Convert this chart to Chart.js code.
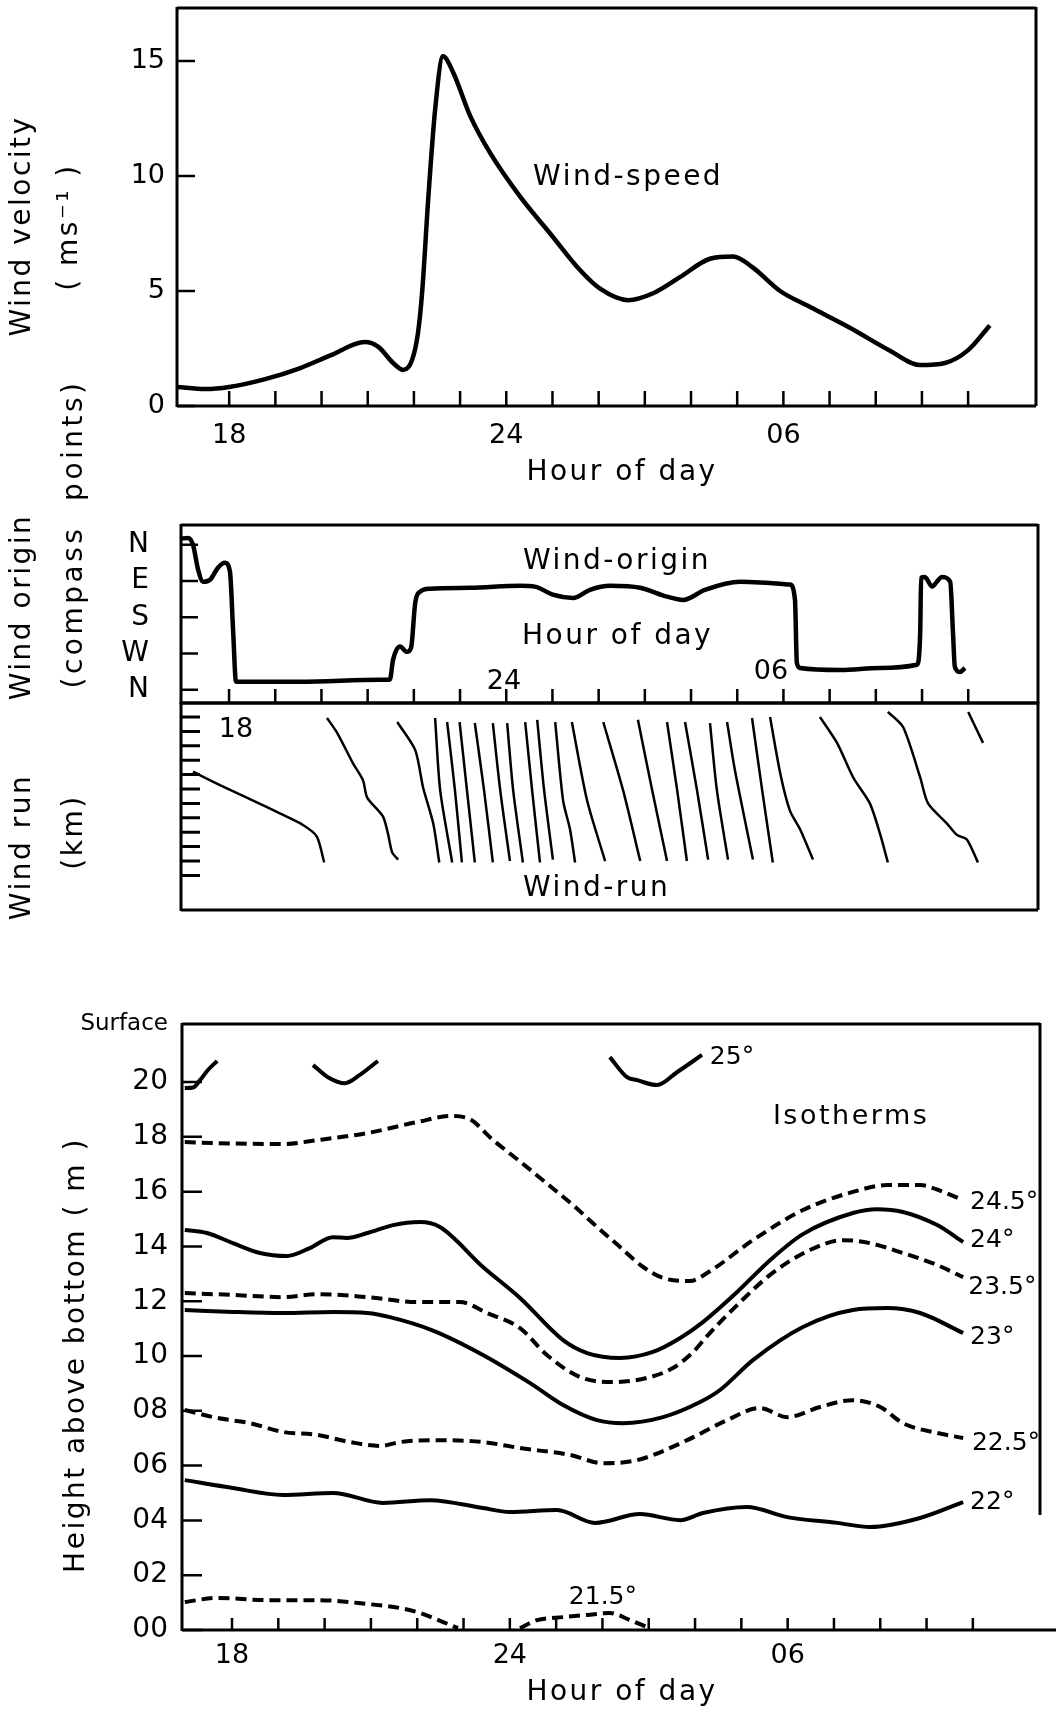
<!DOCTYPE html>
<html>
<head>
<meta charset="utf-8">
<script src="https://cdn.jsdelivr.net/npm/chart.js@4.4.0/dist/chart.umd.min.js"></script>
<style>
  html, body { margin: 0; padding: 0; background: #fff; }
  #wrap { position: relative; width: 1058px; height: 1712px; }
  #wrap canvas { position: absolute; left: 0; top: 0; }
</style>
</head>
<body>
<div id="wrap">
  <canvas id="speed" width="1058" height="1712"></canvas>
  <canvas id="origin" width="1058" height="1712"></canvas>
  <canvas id="run" width="1058" height="1712"></canvas>
  <canvas id="iso" width="1058" height="1712"></canvas>
</div>
<script>
// ===== data =====
const hourTicks = [18, 19, 20, 21, 22, 23, 24, 25, 26, 27, 28, 29, 30, 31, 32, 33, 34];
const hourTickLabels = ['18', '', '', '', '', '', '24', '', '', '', '', '', '06', '', '', '', ''];

// wind speed (m/s)
const speedTicks = [0, 5, 10, 15];
const speedTickLabels = ['0', '5', '10', '15'];
const speedHours = [16.87, 17.48, 18.0, 18.78, 19.54, 20.19, 20.94, 21.23, 21.55, 21.77, 21.96, 22.09, 22.18, 22.31, 22.46, 22.63, 22.85, 23.22, 23.65, 24.3, 24.95, 25.6, 26.03, 26.64, 27.18, 27.76, 28.41, 28.91, 29.32, 29.93, 30.58, 31.44, 32.31, 32.96, 33.5, 34.0, 34.47];
const speedValues = [0.83, 0.74, 0.83, 1.17, 1.65, 2.2, 2.78, 2.57, 1.87, 1.57, 2.0, 3.2, 5.0, 9.0, 12.9, 15.2, 14.5, 12.6, 11.0, 9.1, 7.5, 5.9, 5.1, 4.6, 4.9, 5.6, 6.4, 6.5, 6.05, 5.0, 4.3, 3.4, 2.4, 1.78, 1.87, 2.43, 3.5];

// wind origin (degrees, N = 0 at top)
const compassTicks = [0, 90, 180, 270, 360];
const compassLabels = ['N', 'E', 'S', 'W', 'N'];
const originHours = [16.94, 17.11, 17.22, 17.33, 17.44, 17.59, 17.76, 17.91, 18.02, 18.09, 18.15, 18.24, 19.54, 21.27, 21.48, 21.55, 21.70, 21.85, 21.94, 22.03, 22.13, 22.35, 23.22, 24.30, 24.62, 25.01, 25.45, 25.81, 26.25, 26.90, 27.48, 27.83, 28.30, 29.06, 30.14, 30.25, 30.29, 30.36, 31.23, 32.09, 32.89, 32.96, 32.98, 33.06, 33.22, 33.32, 33.43, 33.61, 33.67, 33.71, 33.82, 33.93];
const originDegrees = [-15, -17, 0, 62, 92, 87, 57, 45, 67, 219, 340, 340, 340, 335, 335, 286, 253, 266, 256, 144, 117, 109, 107, 102, 104, 124, 132, 112, 102, 107, 129, 137, 112, 92, 99, 137, 293, 306, 311, 306, 298, 219, 82, 80, 104, 92, 80, 92, 219, 303, 316, 306];

// wind run (km), one trace per run
const runTicks = [0, 1, 2, 3, 4, 5, 6, 7, 8, 9, 10, 11];
const runHours = [
  [17.22, 17.85, 18.52, 19.10, 19.60, 19.90, 20.06],
  [20.12, 20.34, 20.68, 20.90, 20.99, 21.33, 21.44, 21.53, 21.66],
  [21.64, 22.03, 22.20, 22.42, 22.55],
  [22.46, 22.57, 22.83],
  [22.72, 22.89, 23.04],
  [22.99, 23.15, 23.32],
  [23.32, 23.52, 23.71],
  [23.71, 23.87, 24.08],
  [24.02, 24.15, 24.36],
  [24.41, 24.56, 24.73],
  [24.67, 24.82, 25.01],
  [25.06, 25.23, 25.38, 25.49],
  [25.42, 25.75, 26.14],
  [26.10, 26.53, 26.90],
  [26.85, 27.16, 27.48],
  [27.48, 27.70, 27.91],
  [27.87, 28.13, 28.37],
  [28.41, 28.56, 28.80],
  [28.78, 28.95, 29.34],
  [29.32, 29.54, 29.77],
  [29.71, 29.93, 30.14, 30.36, 30.64],
  [30.79, 31.16, 31.51, 31.87, 32.09, 32.26],
  [32.26, 32.59, 32.96, 33.13, 33.54, 33.76, 33.97, 34.21],
  [34.00, 34.32]
];
const runKm = [
  [3.8, 4.8, 5.8, 6.7, 7.5, 8.3, 10.1],
  [0.07, 1.1, 3.2, 4.4, 5.6, 6.9, 8.1, 9.4, 9.9],
  [0.35, 2.3, 4.9, 7.4, 10.1],
  [0.07, 5.1, 10.1],
  [0.35, 5.1, 10.1],
  [0.35, 5.1, 10.1],
  [0.42, 5.1, 10.1],
  [0.42, 5.1, 10.0],
  [0.42, 5.1, 10.1],
  [0.35, 5.1, 10.1],
  [0.2, 5.1, 9.9],
  [0.35, 5.8, 7.8, 10.1],
  [0.35, 5.8, 10.0],
  [0.35, 5.1, 10.0],
  [0.2, 5.1, 10.0],
  [0.35, 5.1, 10.0],
  [0.35, 5.1, 9.9],
  [0.42, 5.1, 9.9],
  [0.35, 3.7, 9.9],
  [0.07, 5.1, 10.1],
  [0.0, 3.9, 6.5, 7.8, 9.9],
  [0.0, 1.8, 4.2, 6.0, 8.1, 10.1],
  [-0.35, 0.7, 4.2, 6.0, 7.4, 8.2, 8.5, 10.1],
  [-0.35, 1.8]
];

// isotherms: height above bottom (m)
const heightTicks = [0, 2, 4, 6, 8, 10, 12, 14, 16, 18, 20];
const heightLabels = ['00', '02', '04', '06', '08', '10', '12', '14', '16', '18', '20'];
const surfaceHeight = 22.12;
const iso25aHours = [16.98, 17.16, 17.31, 17.48, 17.68];
const iso25aHeights = [19.78, 19.80, 20.07, 20.44, 20.77];
const iso25bHours = [19.75, 20.07, 20.44, 20.76, 21.15];
const iso25bHeights = [20.62, 20.18, 19.96, 20.26, 20.77];
const iso25cHours = [26.16, 26.53, 26.75, 27.18, 27.61, 28.15];
const iso25cHeights = [20.91, 20.18, 20.07, 19.89, 20.36, 20.99];
const iso245Hours = [16.98, 17.68, 19.10, 19.84, 20.92, 22.00, 22.71, 23.08, 23.64, 24.22, 24.80, 25.37, 25.88, 26.38, 26.88, 27.31, 27.89, 28.26, 29.25, 30.33, 31.41, 32.15, 32.86, 33.36, 33.79];
const iso245Heights = [17.81, 17.77, 17.74, 17.88, 18.14, 18.54, 18.76, 18.69, 17.88, 17.10, 16.30, 15.50, 14.72, 13.98, 13.25, 12.85, 12.74, 13.03, 14.23, 15.33, 15.99, 16.24, 16.24, 15.99, 15.69];
const iso24Hours = [16.98, 17.46, 18.02, 18.60, 19.19, 19.68, 20.18, 20.48, 20.92, 21.48, 22.06, 22.49, 23.42, 24.22, 25.15, 25.67, 26.38, 27.09, 27.68, 28.17, 28.91, 29.62, 30.33, 31.41, 31.93, 32.49, 33.23, 33.79];
const iso24Heights = [14.60, 14.49, 14.12, 13.76, 13.65, 13.94, 14.34, 14.31, 14.49, 14.78, 14.89, 14.71, 13.25, 12.12, 10.58, 10.11, 9.93, 10.15, 10.66, 11.24, 12.34, 13.50, 14.45, 15.22, 15.36, 15.26, 14.78, 14.16];
const iso235Hours = [16.98, 18.02, 19.10, 19.84, 20.92, 22.00, 22.92, 23.51, 24.22, 24.80, 25.52, 26.23, 26.96, 27.52, 27.96, 28.26, 28.91, 29.62, 30.48, 31.20, 31.78, 32.49, 33.23, 33.79];
const iso235Heights = [12.30, 12.23, 12.15, 12.26, 12.15, 11.97, 11.97, 11.57, 11.02, 10.04, 9.23, 9.05, 9.20, 9.56, 10.15, 10.73, 11.86, 12.96, 13.87, 14.23, 14.12, 13.76, 13.32, 12.88];
const iso23Hours = [16.98, 18.02, 19.10, 20.18, 20.92, 21.41, 22.34, 23.42, 24.44, 25.15, 25.88, 26.44, 27.31, 28.11, 28.54, 29.25, 30.33, 31.41, 32.15, 32.86, 33.79];
const iso23Heights = [11.68, 11.61, 11.57, 11.61, 11.57, 11.42, 10.93, 10.04, 9.01, 8.21, 7.66, 7.55, 7.77, 8.32, 8.76, 9.85, 11.06, 11.68, 11.75, 11.57, 10.84];
const iso225Hours = [16.98, 17.68, 18.39, 19.10, 19.84, 20.55, 21.20, 21.63, 22.34, 23.42, 24.22, 25.30, 26.01, 26.75, 27.83, 28.69, 29.40, 29.99, 30.70, 31.41, 32.00, 32.49, 33.23, 33.79];
const iso225Heights = [8.03, 7.74, 7.55, 7.23, 7.12, 6.86, 6.72, 6.86, 6.93, 6.86, 6.64, 6.39, 6.09, 6.20, 6.93, 7.66, 8.10, 7.77, 8.14, 8.39, 8.14, 7.55, 7.19, 7.01];
const iso22Hours = [16.98, 18.02, 19.10, 20.18, 21.26, 22.28, 23.42, 24.00, 25.02, 25.84, 26.81, 27.68, 28.17, 29.12, 29.99, 31.07, 31.78, 32.86, 33.79];
const iso22Heights = [5.47, 5.18, 4.93, 5.00, 4.64, 4.74, 4.45, 4.31, 4.38, 3.91, 4.23, 4.01, 4.27, 4.49, 4.12, 3.91, 3.76, 4.09, 4.67];
const iso215aHours = [16.98, 17.68, 18.76, 19.84, 20.92, 21.63, 22.06, 22.56, 22.88];
const iso215aHeights = [1.02, 1.17, 1.09, 1.09, 0.95, 0.80, 0.62, 0.29, 0.07];
const iso215bHours = [24.22, 24.59, 25.15, 25.67, 26.16, 26.60, 26.96];
const iso215bHeights = [0.07, 0.36, 0.47, 0.55, 0.62, 0.36, 0.11];

// ===== drawing helpers =====
const FONT = '"DejaVu Sans", sans-serif';
const INK = '#000';
const DASH = [11, 6];

// frame, inward tick marks and free text
const figurePlugin = {
  id: 'figure',
  afterDraw(chart, args, opts) {
    const { ctx, chartArea: a, scales } = chart;
    ctx.save();
    ctx.strokeStyle = INK;
    const f = opts.frame;
    if (f) {
      const rightEnd = f.rightTo != null ? scales.y.getPixelForValue(f.rightTo) : a.bottom;
      ctx.lineWidth = f.width;
      ctx.beginPath();
      ctx.moveTo(a.left, a.top); ctx.lineTo(a.right, a.top);
      ctx.moveTo(a.left, a.top - 1); ctx.lineTo(a.left, a.bottom + 1);
      ctx.moveTo(a.left, a.bottom); ctx.lineTo(a.right + (f.extend || 0), a.bottom);
      ctx.moveTo(a.right, a.top - 1); ctx.lineTo(a.right, rightEnd);
      ctx.stroke();
    }
    (opts.ticks || []).forEach(t => {
      const s = scales[t.axis];
      ctx.lineWidth = t.width || 2.5;
      ctx.beginPath();
      t.values.forEach(v => {
        const p = s.getPixelForValue(v);
        if (t.axis === 'x') { ctx.moveTo(p, a.bottom); ctx.lineTo(p, a.bottom - t.len); }
        else { ctx.moveTo(a.left, p); ctx.lineTo(a.left + t.len, p); }
      });
      ctx.stroke();
    });
    ctx.fillStyle = INK;
    (opts.notes || []).forEach(n => {
      const x = n.page ? n.x : scales.x.getPixelForValue(n.x);
      const y = n.page ? n.y : scales.y.getPixelForValue(n.y);
      ctx.save();
      ctx.font = `${n.size || 27}px ${FONT}`;
      if ('letterSpacing' in ctx) ctx.letterSpacing = (n.spacing != null ? n.spacing : 2.5) + 'px';
      ctx.textAlign = n.align || 'center';
      ctx.textBaseline = 'middle';
      ctx.translate(x, y);
      if (n.rotate) ctx.rotate(n.rotate * Math.PI / 180);
      ctx.fillText(n.text, 0, 0);
      ctx.restore();
    });
    ctx.restore();
  }
};
Chart.register(figurePlugin);

function trace(hours, values, extra) {
  return Object.assign({
    data: hours.map((h, i) => ({ x: h, y: values[i] })),
    borderColor: INK,
    borderWidth: 4,
    pointRadius: 0,
    fill: false,
    cubicInterpolationMode: 'monotone'
  }, extra || {});
}

function hourScale(min, max, showLabels, height, pad) {
  return {
    type: 'linear', min, max,
    grid: { display: false, drawTicks: false },
    border: { display: false },
    afterBuildTicks: s => { s.ticks = hourTicks.map(v => ({ value: v })); },
    afterFit: s => { s.height = height; s.paddingLeft = 0; s.paddingRight = 0; },
    ticks: {
      display: showLabels, autoSkip: false, maxRotation: 0, padding: pad, color: INK,
      font: { family: FONT, size: 27 },
      callback: v => hourTickLabels[hourTicks.indexOf(v)] || ''
    }
  };
}

function valueScale(o) {
  return {
    type: 'linear', min: o.min, max: o.max, reverse: !!o.reverse,
    grid: { display: false, drawTicks: false },
    border: { display: false },
    afterBuildTicks: s => { s.ticks = o.ticks.map(v => ({ value: v })); },
    afterFit: s => { s.width = o.width; s.paddingTop = 0; s.paddingBottom = 0; },
    ticks: {
      display: o.labels != null, autoSkip: false, padding: o.pad || 0, color: INK,
      font: o.font || { family: FONT, size: 27 },
      callback: v => (o.labels ? o.labels[o.ticks.indexOf(v)] : '')
    }
  };
}

function options(padding, x, y, figure) {
  return {
    responsive: false,
    animation: false,
    events: [],
    layout: { padding },
    scales: { x, y },
    plugins: { legend: { display: false }, tooltip: { enabled: false }, figure }
  };
}

// ===== wind speed =====
new Chart(document.getElementById('speed'), {
  type: 'line',
  data: { datasets: [trace(speedHours, speedValues, { borderWidth: 4.5 })] },
  options: options(
    { left: 0, top: 8, right: 22, bottom: 1212 },
    hourScale(16.87, 35.47, true, 94, 14),
    valueScale({ min: 0, max: 17.3, ticks: speedTicks, labels: speedTickLabels, width: 177, pad: 12 }),
    {
      frame: { width: 3 },
      ticks: [{ axis: 'x', values: hourTicks, len: 15 }, { axis: 'y', values: speedTicks, len: 18 }],
      notes: [
        { text: 'Wind velocity', x: 23, y: 226, page: true, rotate: -90, size: 28 },
        { text: '( ms⁻¹ )', x: 70, y: 227, page: true, rotate: -90, size: 28 },
        { text: 'Hour of day', x: 622, y: 473, page: true, size: 28 },
        { text: 'Wind-speed', x: 24.58, y: 9.91, align: 'left', size: 28 }
      ]
    })
});

// ===== wind origin =====
new Chart(document.getElementById('origin'), {
  type: 'line',
  data: { datasets: [trace(originHours, originDegrees, { borderWidth: 4.5 })] },
  options: options(
    { left: 0, top: 525, right: 20, bottom: 1008 },
    hourScale(16.96, 35.51, false, 1, 0),
    valueScale({ min: -49, max: 393, reverse: true, ticks: compassTicks, labels: compassLabels, width: 181, pad: 32,
      font: { family: FONT, size: 28 } }),
    {
      frame: { width: 3 },
      ticks: [{ axis: 'x', values: hourTicks, len: 14 }, { axis: 'y', values: compassTicks, len: 17 }],
      notes: [
        { text: 'Wind origin', x: 23, y: 607, page: true, rotate: -90, size: 28 },
        { text: '(compass  points)', x: 75, y: 534, page: true, rotate: -90, size: 28, spacing: 3.5 },
        { text: 'Wind-origin', x: 24.36, y: 43, align: 'left', size: 28 },
        { text: 'Hour of day', x: 24.34, y: 229, align: 'left', size: 28 },
        { text: '24', x: 23.95, y: 341, size: 27, spacing: 0 },
        { text: '06', x: 29.73, y: 316, size: 27, spacing: 0 }
      ]
    })
});

// ===== wind run =====
new Chart(document.getElementById('run'), {
  type: 'line',
  data: {
    datasets: runHours.map((h, i) => trace(h, runKm[i], {
      borderWidth: 2.5, cubicInterpolationMode: 'default', tension: 0.25
    }))
  },
  options: options(
    { left: 0, top: 703, right: 20, bottom: 801 },
    hourScale(16.96, 35.51, false, 1, 0),
    valueScale({ min: -0.97, max: 13.4, reverse: true, ticks: runTicks, width: 181 }),
    {
      frame: { width: 3 },
      ticks: [{ axis: 'y', values: runTicks, len: 19, width: 3 }],
      notes: [
        { text: 'Wind run', x: 23, y: 847, page: true, rotate: -90, size: 28 },
        { text: '(km)', x: 75, y: 832, page: true, rotate: -90, size: 28 },
        { text: '18', x: 18.15, y: 0.9, size: 27, spacing: 0 },
        { text: 'Wind-run', x: 24.36, y: 11.9, align: 'left', size: 28 }
      ]
    })
});

// ===== isotherms =====
const solid = { borderWidth: 4 };
const dashed = { borderWidth: 4, borderDash: DASH };
new Chart(document.getElementById('iso'), {
  type: 'line',
  data: {
    datasets: [
      trace(iso25aHours, iso25aHeights, solid),
      trace(iso25bHours, iso25bHeights, solid),
      trace(iso25cHours, iso25cHeights, solid),
      trace(iso245Hours, iso245Heights, dashed),
      trace(iso24Hours, iso24Heights, solid),
      trace(iso235Hours, iso235Heights, dashed),
      trace(iso23Hours, iso23Heights, solid),
      trace(iso225Hours, iso225Heights, dashed),
      trace(iso22Hours, iso22Heights, solid),
      trace(iso215aHours, iso215aHeights, dashed),
      trace(iso215bHours, iso215bHeights, dashed)
    ]
  },
  options: options(
    { left: 0, top: 1024, right: 18, bottom: 32 },
    hourScale(16.92, 35.45, true, 50, 10),
    Object.assign(
      valueScale({ min: 0, max: surfaceHeight, ticks: heightTicks.concat([surfaceHeight]),
        labels: heightLabels.concat(['Surface']), width: 182, pad: 14 }),
      { ticks: {
          autoSkip: false, padding: 14, color: INK,
          font: c => ({ family: FONT, size: c.tick && c.tick.value > 21 ? 23 : 28 }),
          callback: v => (v > 21 ? 'Surface' : heightLabels[heightTicks.indexOf(v)])
      } }
    ),
    {
      frame: { width: 3, rightTo: 4.2, extend: 16 },
      ticks: [{ axis: 'x', values: hourTicks, len: 12 }, { axis: 'y', values: heightTicks, len: 20 }],
      notes: [
        { text: 'Height above bottom ( m )', x: 77, y: 1355, page: true, rotate: -90, size: 28 },
        { text: 'Hour of day', x: 622, y: 1693, page: true, size: 28 },
        { text: 'Isotherms', x: 31.37, y: 18.72, size: 27 },
        { text: '25°', x: 28.32, y: 20.88, align: 'left', size: 25, spacing: 0 },
        { text: '24.5°', x: 33.94, y: 15.62, align: 'left', size: 25, spacing: 0 },
        { text: '24°', x: 33.94, y: 14.23, align: 'left', size: 25, spacing: 0 },
        { text: '23.5°', x: 33.90, y: 12.52, align: 'left', size: 25, spacing: 0 },
        { text: '23°', x: 33.94, y: 10.69, align: 'left', size: 25, spacing: 0 },
        { text: '22.5°', x: 33.98, y: 6.82, align: 'left', size: 25, spacing: 0 },
        { text: '22°', x: 33.94, y: 4.67, align: 'left', size: 25, spacing: 0 },
        { text: '21.5°', x: 26.01, y: 1.20, size: 25, spacing: 0 }
      ]
    })
});
</script>
</body>
</html>
